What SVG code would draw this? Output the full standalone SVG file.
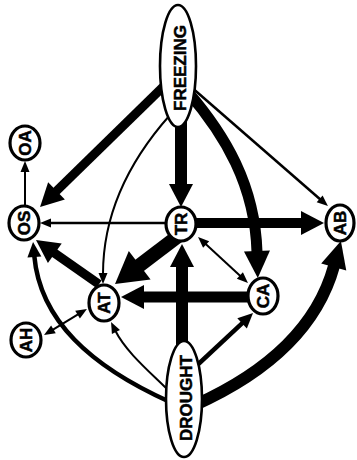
<svg xmlns="http://www.w3.org/2000/svg" width="357" height="460" viewBox="0 0 357 460">
<style>
.c{fill:none;stroke:#000;stroke-linecap:butt}
.n{fill:#fff;stroke:#000;stroke-width:3.2}
.e{fill:#fff;stroke:#000;stroke-width:2.6}
text{font-family:"Liberation Sans",Arial,sans-serif;font-weight:bold;font-size:17px;text-anchor:middle;dominant-baseline:central;fill:#000;stroke:#000;stroke-width:0.5}
marker path{fill:#000;stroke:none}
</style>
<defs>
<marker id="hs" markerUnits="userSpaceOnUse" orient="auto-start-reverse" refX="0" refY="0" markerWidth="1" markerHeight="1" overflow="visible"><path d="M-1,-4.5 L10,0 L-1,4.5 z"/></marker>
<marker id="hm" markerUnits="userSpaceOnUse" orient="auto" refX="0" refY="0" markerWidth="1" markerHeight="1" overflow="visible"><path d="M-1,-7 L14,0 L-1,7 z"/></marker>
<marker id="hl" markerUnits="userSpaceOnUse" orient="auto" refX="0" refY="0" markerWidth="1" markerHeight="1" overflow="visible"><path d="M-1,-12 L22,0 L-1,12 z"/></marker>
<marker id="hc" markerUnits="userSpaceOnUse" orient="auto" refX="0" refY="0" markerWidth="1" markerHeight="1" overflow="visible"><path d="M-1,-13 L26,0 L-1,13 z"/></marker>
<marker id="hx" markerUnits="userSpaceOnUse" orient="auto" refX="0" refY="0" markerWidth="1" markerHeight="1" overflow="visible"><path d="M-1,-18 L30,0 L-1,18 z"/></marker>
</defs>
<g id="connectors">
<path class="c" d="M165,85 L55.8,191.6" stroke-width="9" marker-end="url(#hl)"/>
<path class="c" d="M181,110 L181,185" stroke-width="12" marker-end="url(#hl)"/>
<path class="c" d="M188,92 C225,135 255,185 257,252" stroke-width="11" marker-end="url(#hc)"/>
<path class="c" d="M190,86 L320.4,199.5" stroke-width="2.5" marker-end="url(#hs)"/>
<path class="c" d="M170,115 C130,160 103,212 103,274" stroke-width="2" marker-end="url(#hs)"/>
<path class="c" d="M170,223 L50,223" stroke-width="2.5" marker-end="url(#hs)"/>
<path class="c" d="M190,223 L302,223" stroke-width="10" marker-end="url(#hl)"/>
<path class="c" d="M178.7,235.6 L138.9,265.9" stroke-width="14" marker-end="url(#hx)"/>
<path class="c" d="M205.4,243.8 L240.6,276.2" stroke-width="2" marker-start="url(#hs)" marker-end="url(#hs)"/>
<path class="c" d="M255,297 L143,297" stroke-width="11" marker-end="url(#hl)"/>
<path class="c" d="M182,360 L182,266" stroke-width="12" marker-end="url(#hl)"/>
<path class="c" d="M192,370 L242.8,322.6" stroke-width="4.5" marker-end="url(#hm)"/>
<path class="c" d="M195,405 C255,378 315,335 334,266" stroke-width="12" marker-end="url(#hc)"/>
<path class="c" d="M170,392 C150,372 126,352 115.5,331" stroke-width="2" marker-end="url(#hs)"/>
<path class="c" d="M170,402 C90,366 40,320 34.3,256" stroke-width="4.5" marker-end="url(#hm)"/>
<path class="c" d="M99,284.3 L54,252.7" stroke-width="9" marker-end="url(#hl)"/>
<path class="c" d="M52.6,329.8 L78.4,314.2" stroke-width="2" marker-start="url(#hs)" marker-end="url(#hs)"/>
<path class="c" d="M25,207 L25,171" stroke-width="2" marker-end="url(#hs)"/>
</g>
<g id="FREEZING"><ellipse class="e" cx="178" cy="66" rx="18" ry="61"/><text transform="translate(180,68) rotate(-90)">FREEZING</text></g>
<g id="DROUGHT"><ellipse class="e" cx="184" cy="399" rx="18" ry="58"/><text transform="translate(186,398) rotate(-90)">DROUGHT</text></g>
<g id="OA"><ellipse class="n" cx="25" cy="143" rx="15" ry="17"/><text transform="translate(25,143) rotate(-90)">OA</text></g>
<g id="OS"><ellipse class="n" cx="24" cy="223" rx="15" ry="17"/><text transform="translate(24,223) rotate(-90)">OS</text></g>
<g id="TR"><ellipse class="n" cx="181" cy="224" rx="15" ry="17"/><text transform="translate(181,224) rotate(-90)">TR</text></g>
<g id="AB"><ellipse class="n" cx="340" cy="223" rx="14" ry="18"/><text transform="translate(340,223) rotate(-90)">AB</text></g>
<g id="AT"><ellipse class="n" cx="104" cy="303" rx="15" ry="18"/><text transform="translate(104,303) rotate(-90)">AT</text></g>
<g id="CA"><ellipse class="n" cx="263" cy="296" rx="15" ry="18"/><text transform="translate(263,296) rotate(-90)">CA</text></g>
<g id="AH"><ellipse class="n" cx="26" cy="340" rx="15" ry="17"/><text transform="translate(26,340) rotate(-90)">AH</text></g>
</svg>
